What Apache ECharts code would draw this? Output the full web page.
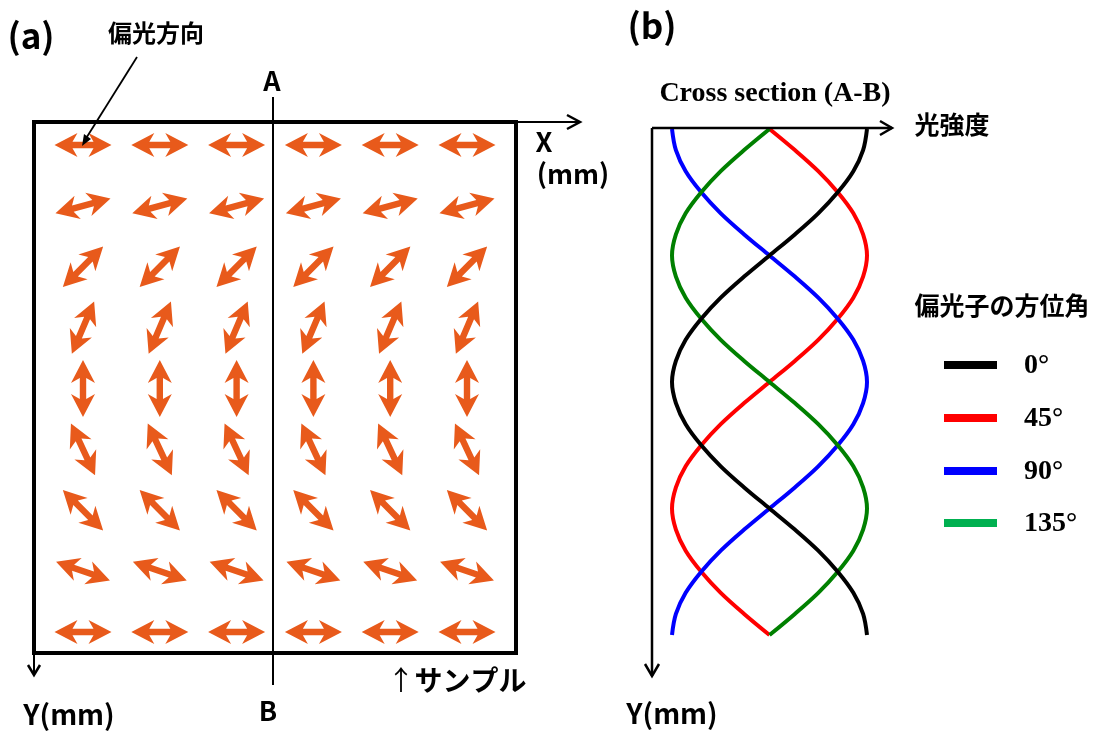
<!DOCTYPE html>
<html><head><meta charset="utf-8">
<script src="https://cdn.jsdelivr.net/npm/echarts@6/dist/echarts.min.js"></script>
<style>html,body{margin:0;padding:0;background:#fff}#c{width:1099px;height:731px}</style>
</head><body><div id="c"></div>
<script>
// Panel (a): polarization direction grid
const colX = [1, 2, 3, 4, 5, 6];
const rowY = [1, 2, 3, 4, 5, 6, 7, 8, 9];
const rowAngle = [0, 15, 45, 67, 90, -65, -45, -19, 0];

// Panel (b): intensity along cross section A-B
const posY   = [0, 7.5, 15, 22.5, 30, 37.5, 45, 52.5, 60, 67.5, 75, 82.5, 90, 97.5, 105, 112.5, 120, 127.5, 135, 142.5, 150, 157.5, 165, 172.5, 180];
const int0   = [1.00, 0.98, 0.93, 0.85, 0.75, 0.63, 0.50, 0.37, 0.25, 0.15, 0.07, 0.02, 0.00, 0.02, 0.07, 0.15, 0.25, 0.37, 0.50, 0.63, 0.75, 0.85, 0.93, 0.98, 1.00];
const int45  = [0.50, 0.63, 0.75, 0.85, 0.93, 0.98, 1.00, 0.98, 0.93, 0.85, 0.75, 0.63, 0.50, 0.37, 0.25, 0.15, 0.07, 0.02, 0.00, 0.02, 0.07, 0.15, 0.25, 0.37, 0.50];
const int90  = [0.00, 0.02, 0.07, 0.15, 0.25, 0.37, 0.50, 0.63, 0.75, 0.85, 0.93, 0.98, 1.00, 0.98, 0.93, 0.85, 0.75, 0.63, 0.50, 0.37, 0.25, 0.15, 0.07, 0.02, 0.00];
const int135 = [0.50, 0.37, 0.25, 0.15, 0.07, 0.02, 0.00, 0.02, 0.07, 0.15, 0.25, 0.37, 0.50, 0.63, 0.75, 0.85, 0.93, 0.98, 1.00, 0.98, 0.93, 0.85, 0.75, 0.63, 0.50];
const legendLabels = ['0°', '45°', '90°', '135°'];
const curveColors = ['#000000', '#ff0000', '#0000ff', '#008000'];
const legendColors = ['#000000', '#ff0000', '#0000ff', '#00b050'];

const ARROW = 'path://M0,12 L23,0 L18,8.8 L39,8.8 L34,0 L57,12 L34,24 L39,15.2 L18,15.2 L23,24 Z';
const JP = '"Noto Sans CJK JP", "Noto Sans", sans-serif';
const SERIF = '"Liberation Serif", "DejaVu Serif", serif';

const arrowData = [];
rowY.forEach((y, r) => colX.forEach(x => arrowData.push({ value: [x, y], symbolRotate: rowAngle[r] })));

const curves = [int0, int45, int90, int135].map((arr, k) => ({
  type: 'line', xAxisIndex: 1, yAxisIndex: 1, smooth: 0.35, showSymbol: false, clip: false,
  lineStyle: { color: curveColors[k], width: 4 },
  data: arr.map((v, i) => [v, posY[i]]),
  z: 3 + (k === 0 ? 1 : 0)
}));

const G = [];
const line = (pts, w) => G.push({ type: 'polyline', shape: { points: pts }, style: { stroke: '#000', lineWidth: w, fill: null }, z: 10 });
const text = (x, y, t, size, opts) => G.push({ type: 'text', x, y, style: Object.assign({ text: t, font: `bold ${size}px ${JP}`, fill: '#000', align: 'center', verticalAlign: 'middle' }, opts || {}), z: 10 });

// panel (a) decorations
line([[516, 122], [580, 122]], 2);
line([[567, 115], [580, 122], [567, 129]], 2.5);
line([[34, 653], [34, 675]], 2);
line([[28, 665], [34, 675], [40, 665]], 2.5);
line([[273, 97], [273, 685]], 2);
line([[137, 57], [85, 140]], 1.8);
G.push({ type: 'polygon', shape: { points: [[82, 146], [91, 139], [84, 134]] }, style: { fill: '#000' }, z: 10 });
text(31, 36, '(a)', 35);
text(156, 33, '偏光方向', 24);
text(272, 81, 'A', 27);
text(268, 711, 'B', 27);
text(544, 142, 'X', 27);
text(573, 174, '(mm)', 27);
text(69, 714, 'Y(mm)', 28);
G.push({ type: 'text', x: 457, y: 680, style: { rich: { a: { font: `27px ${JP}`, fill: '#000' }, b: { font: `bold 28px ${JP}`, fill: '#000' } }, text: '{a|↑}{b|サンプル}', align: 'center', verticalAlign: 'middle' }, z: 10 });

// panel (b) decorations
line([[652, 128], [892, 128]], 2.5);
line([[880, 121], [892, 128], [880, 135]], 2.5);
line([[652, 128], [652, 676]], 2.5);
line([[645, 664], [652, 676], [659, 664]], 2.5);
text(652, 26, '(b)', 35);
text(775, 94, 'Cross section (A-B)', 28, { font: `bold 28px ${SERIF}` });
text(952, 124, '光強度', 25);
text(1002, 305, '偏光子の方位角', 25);
text(672, 713, 'Y(mm)', 28);
const legY = [365, 418, 471, 523];
legendLabels.forEach((t, i) => {
  G.push({ type: 'rect', shape: { x: 944, y: legY[i] - 4, width: 53, height: 8 }, style: { fill: legendColors[i] }, z: 10 });
  G.push({ type: 'text', x: 1024, y: legY[i] + 1, style: { text: t, font: `bold 28px ${SERIF}`, fill: '#000', align: 'left', verticalAlign: 'middle' }, z: 10 });
});

const hiddenAxis = { show: false, splitLine: { show: false } };
const option = {
  animation: false,
  backgroundColor: '#fff',
  grid: [
    { left: 34, top: 122, width: 482, height: 531, show: true, borderColor: '#000', borderWidth: 4, backgroundColor: 'transparent' },
    { left: 672, top: 129, width: 195, height: 506 }
  ],
  xAxis: [
    Object.assign({ type: 'value', gridIndex: 0, min: 0.362, max: 6.638 }, hiddenAxis),
    Object.assign({ type: 'value', gridIndex: 1, min: 0, max: 1 }, hiddenAxis)
  ],
  yAxis: [
    Object.assign({ type: 'value', gridIndex: 0, min: 0.622, max: 9.345, inverse: true }, hiddenAxis),
    Object.assign({ type: 'value', gridIndex: 1, min: 0, max: 180, inverse: true }, hiddenAxis)
  ],
  series: [
    { type: 'scatter', xAxisIndex: 0, yAxisIndex: 0, symbol: ARROW, symbolSize: [57, 24], itemStyle: { color: '#e85a1b', opacity: 1 }, data: arrowData, silent: true }
  ].concat(curves),
  graphic: G
};
const chart = echarts.init(document.getElementById('c'), null, { renderer: 'canvas' });
chart.setOption(option);
</script></body></html>
